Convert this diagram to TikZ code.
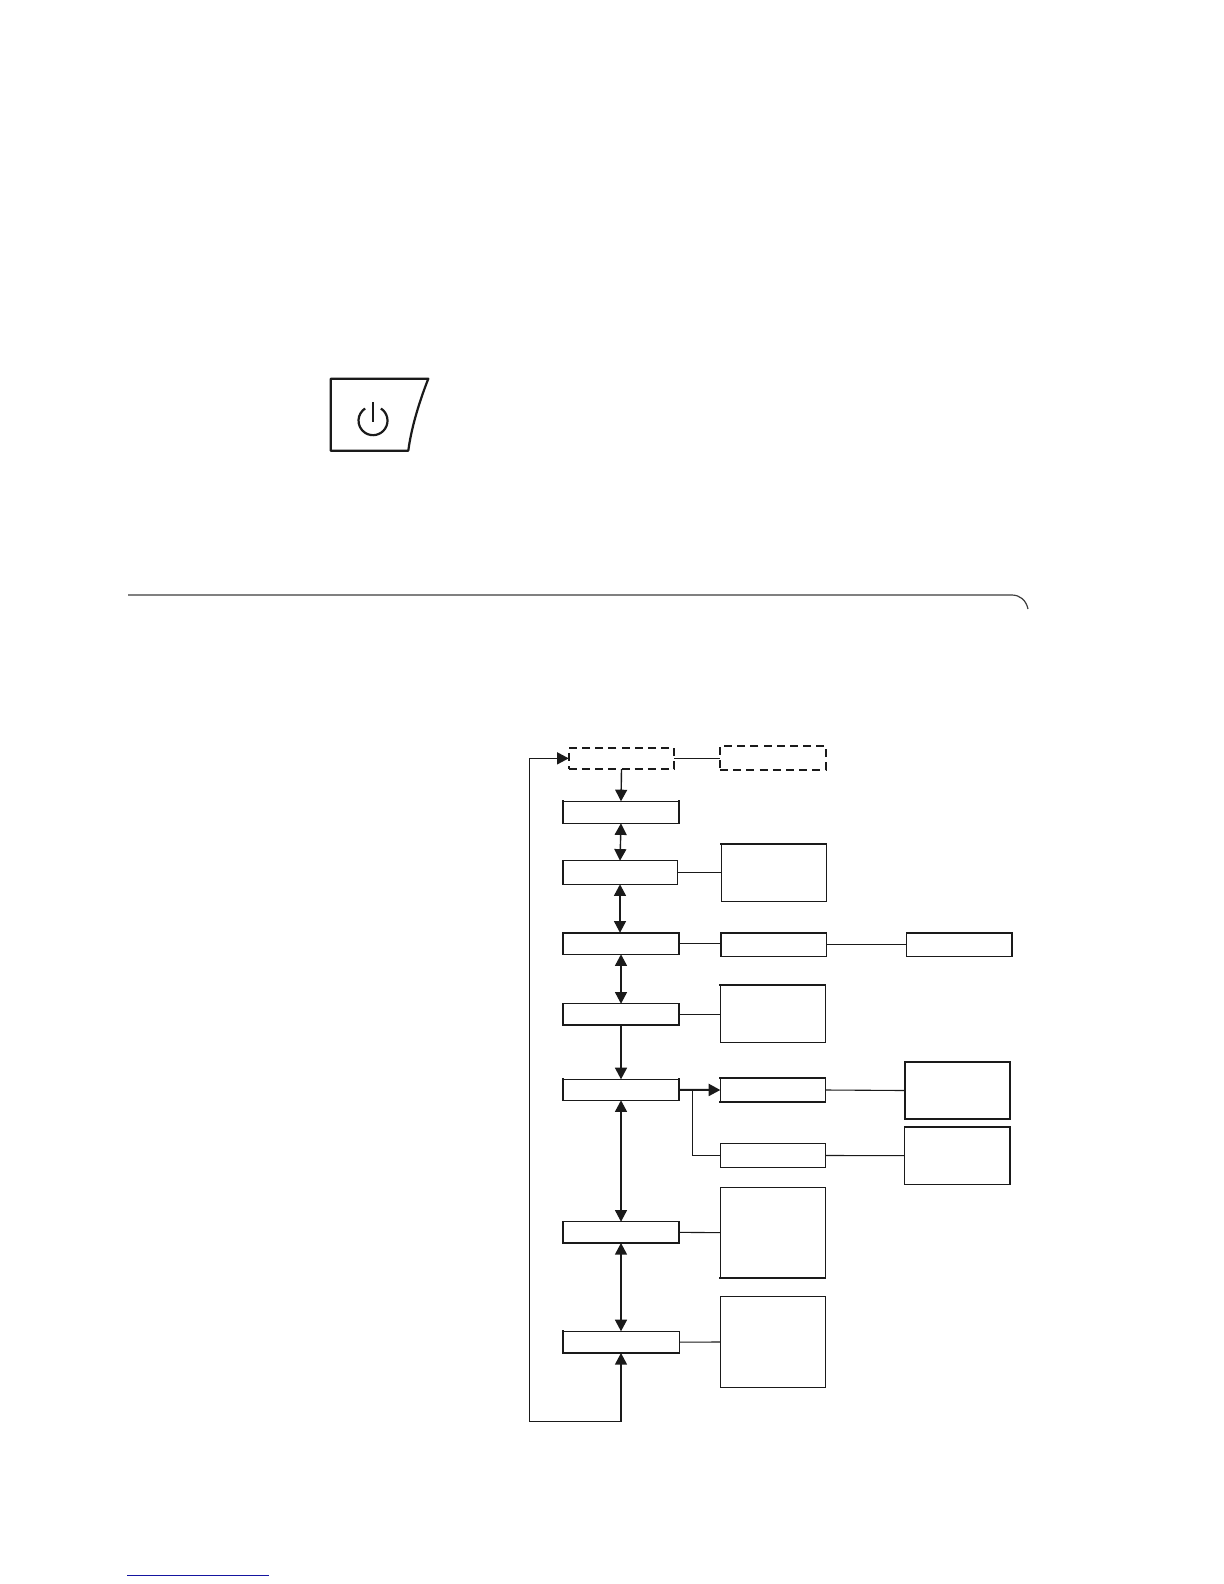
\documentclass[tikz,border=0pt]{standalone}
\usetikzlibrary{fit,arrows.meta}
\definecolor{ink}{HTML}{1A1A1A}
\definecolor{navy}{HTML}{1515A0}
\tikzset{
  x=0.5pt,y=-0.5pt,
  boxbase/.style={draw=ink,line width=0.6pt,fill=white,inner sep=0pt,outer sep=0pt,rectangle},
  solidbox/.style={boxbase},
  dashbox/.style={boxbase,line width=1pt,dash pattern=on 4pt off 2.6pt},
  thickside/.style={draw=ink,line width=1pt,line cap=rect},
  link/.style={draw=ink,line width=0.55pt},
  flow/.style={draw=ink,line width=0.7pt},
  twoway/.style={flow,{Triangle[length=5.8pt,width=6pt]}-{Triangle[length=5.8pt,width=6pt]}},
  oneway/.style={flow,-{Triangle[length=5.8pt,width=6pt]}},
  ruleline/.style={draw=ink!85,line width=0.6pt},
  iconline/.style={draw=ink,line width=1.1pt,line join=round},
  bottomline/.style={draw=navy,line width=0.6pt}
}
\newcommand{\bx}[6]{\node[#6,fit={(#2,#3)(#4,#5)}] (#1) {};}
\begin{document}
\begin{tikzpicture}
\useasboundingbox (0,0) rectangle (1224,1584);
% power button
\draw[iconline] (330.7,378.7) -- (428.3,378.7) .. controls (418,405) and (411,430) .. (408.3,450.7) -- (330.7,450.7) -- cycle;
\draw[iconline] (380.9,408.5) arc[start angle=57,end angle=-237,radius=7.25pt];
\draw[iconline] (373,402.3) -- (373,421.7);
% rule
\draw[ruleline] (128,595) -- (1011.7,595) .. controls (1020,595) and (1026,600) .. (1028,609);
\draw[bottomline] (127,1575.3) -- (269,1575.3);
% boxes
\bx{dA}{568.7}{747.7}{674.3}{769}{dashbox}
\bx{dB}{720}{745.7}{826}{770}{dashbox}
\bx{bA}{562.7}{801.3}{679.3}{823.3}{solidbox}
\bx{bB}{562.7}{860.7}{677.3}{884.3}{solidbox}
\bx{bC}{562.7}{932.7}{679.3}{954.3}{solidbox}
\bx{bD}{562.7}{1003.7}{679.3}{1025}{solidbox}
\bx{bE}{562.7}{1079.3}{679.3}{1100.3}{solidbox}
\bx{bF}{562.7}{1221.7}{679.3}{1243}{solidbox}
\bx{bG}{562.7}{1331.3}{679.3}{1353}{solidbox}
\bx{rB}{721.3}{844}{826.3}{901.3}{solidbox}
\bx{rC}{720.7}{932.7}{826.3}{956.3}{solidbox}
\bx{sC}{906.7}{932.7}{1012}{956.3}{solidbox}
\bx{rD}{720.3}{985}{825.3}{1042.3}{solidbox}
\bx{rE}{720.3}{1078}{825.3}{1102}{solidbox}
\bx{sE}{904.7}{1062}{1010.3}{1119}{solidbox}
\bx{rH}{720.3}{1143.7}{825.3}{1167.3}{solidbox}
\bx{sH}{904.7}{1127}{1010.3}{1184.3}{solidbox}
\bx{rF}{720.3}{1187.3}{825.3}{1278}{solidbox}
\bx{rG}{720.3}{1296.7}{825.3}{1387.3}{solidbox}
% heavier sides
\draw[thickside] (bA.north west) -- (bA.south west);
\draw[thickside] (bA.north east) -- (bA.south east);
\draw[thickside] (bB.north west) -- (bB.south west);
\draw[thickside] (bC.south west) -- (bC.north west) -- (bC.north east) -- (bC.south east);
\draw[thickside] (bD.north west) -- (bD.south west) -- (bD.south east) -- (bD.north east);
\draw[thickside] (bE.north west) -- (bE.south west);
\draw[thickside] (bE.north east) -- (bE.south east);
\draw[thickside] (bF.north west) -- (bF.south west) -- (bF.south east) -- (bF.north east);
\draw[thickside] (bG.north west) -- (bG.south west) -- (bG.south east);
\draw[thickside] (rB.north west) -- (rB.north east);
\draw[thickside] (rC.south west) -- (rC.north west) -- (rC.north east);
\draw[thickside] (sC.north west) -- (sC.north east) -- (sC.south east);
\draw[thickside] (rD.north west) -- (rD.north east);
\draw[thickside] (rE.north west) -- (rE.north east);
\draw[thickside] (rE.south west) -- (rE.south east);
\draw[thickside] (sE.north west) rectangle (sE.south east);
\draw[thickside] (sH.north west) -- (sH.north east) -- (sH.south east);
\draw[thickside] (rF.south west) -- (rF.south east);
% connectors
\coordinate (lowCorner) at (529.3,1421.7);
\coordinate (branch) at (692.3,1089.7);
\draw[oneway] (dA.south) -- (bA.north);
\draw[twoway] (bA.south) -- (bB.north);
\draw[twoway] (bB.south) -- (bC.north -| bB.south);
\draw[twoway] (bC.south) -- (bD.north);
\draw[oneway] (bD.south) -- (bE.north);
\draw[twoway] (bE.south) -- (bF.north);
\draw[twoway] (bF.south) -- (bG.north);
\draw[twoway] (bG.south) |- (lowCorner) |- (dA.west);
\draw[link] (dA.east) -- (dA.east -| dB.west);
\draw[link] (bB.east) -- (bB.east -| rB.west);
\draw[link] (bC.east) -- (bC.east -| rC.west);
\draw[link] (rC.east) -- (sC.west);
\draw[link] (bD.east) -- (bD.east -| rD.west);
\draw[oneway,line width=1pt] (bE.east) -- (rE.west);
\draw[link] (rE.east) -- (sE.west);
\draw[link] (branch) |- (rH.west);
\draw[link] (rH.east) -- (sH.west);
\draw[link] (bF.east) -- (rF.west);
\draw[link] (bG.east) -- (rG.west);
\end{tikzpicture}
\end{document}
